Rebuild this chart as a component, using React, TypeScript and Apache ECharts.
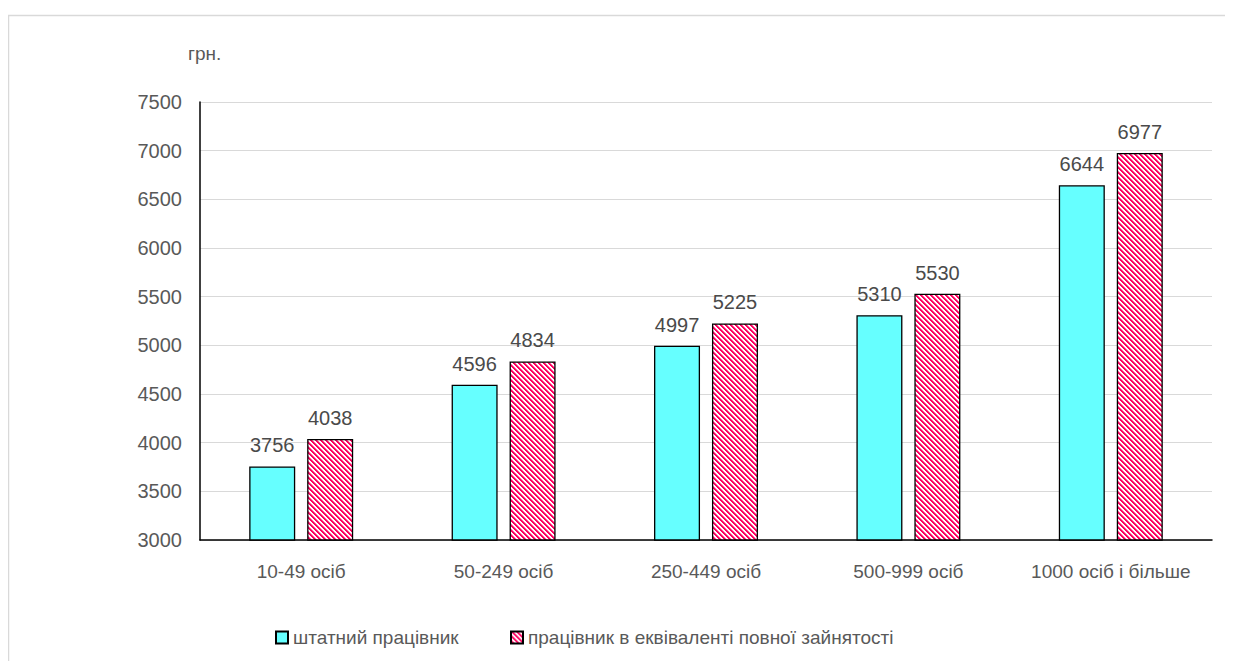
import React, { useEffect, useRef } from "react";
import * as echarts from "echarts";

const categories = ["10-49 осіб", "50-249 осіб", "250-449 осіб", "500-999 осіб", "1000 осіб і більше"];
const staffValues = [3756, 4596, 4997, 5310, 6644];
const fteValues = [4038, 4834, 5225, 5530, 6977];
const seriesNames = ["штатний працівник", "працівник в еквіваленті повної зайнятості"];
const yMin = 3000;
const yMax = 7500;
const yInterval = 500;
const unitLabel = "грн.";

function makeStripes(): HTMLCanvasElement {
  const n = 5;
  const c = document.createElement("canvas");
  c.width = n;
  c.height = n;
  const ctx = c.getContext("2d")!;
  const pink = [255, 0, 96];
  const white = [255, 255, 255];
  const img = ctx.createImageData(n, n);
  for (let y = 0; y < n; y++) {
    for (let x = 0; x < n; x++) {
      const d = (((x - y) % n) + n) % n;
      let t = 0;
      if (d === 0 || d === 1) t = 1;
      else if (d === 2) t = 0.6;
      else t = 0;
      const i = (y * n + x) * 4;
      for (let k = 0; k < 3; k++) img.data[i + k] = Math.round(pink[k] * t + white[k] * (1 - t));
      img.data[i + 3] = 255;
    }
  }
  ctx.putImageData(img, 0, 0);
  return c;
}

export default function App() {
  const ref = useRef<HTMLDivElement>(null);
  useEffect(() => {
    if (!ref.current) return;
    const chart = echarts.init(ref.current, null, { renderer: "svg" });
    const font = "'Liberation Sans', Arial, sans-serif";
    const stripes = makeStripes();
    const labelCommon = {
      show: true,
      position: "top" as const,
      distance: 11,
      color: "#4a4a4a",
      fontSize: 20,
      fontFamily: font,
    };
    const legendText = { fontSize: 19, color: "#595959", fontFamily: font };
    chart.setOption({
      animation: false,
      textStyle: { fontFamily: font },
      graphic: [
        {
          type: "rect",
          shape: { x: 0.5, y: 7.5, width: 1300, height: 700 },
          style: { fill: "none", stroke: "#d9d9d9", lineWidth: 1.5 },
          silent: true,
        },
        {
          type: "text",
          x: 180,
          y: 36,
          style: { text: unitLabel, fontSize: 19, fill: "#595959", fontFamily: font },
        },
      ],
      legend: [
        {
          data: [seriesNames[0]],
          left: 262,
          top: 615,
          itemWidth: 12,
          itemHeight: 12,
          itemGap: 6,
          icon: "rect",
          textStyle: legendText,
        },
        {
          data: [seriesNames[1]],
          left: 497,
          top: 615,
          itemWidth: 12,
          itemHeight: 12,
          icon: "rect",
          textStyle: legendText,
        },
      ],
      grid: { left: 192, right: 21, top: 94, bottom: 121, containLabel: false },
      xAxis: {
        type: "category",
        data: categories,
        axisLine: { lineStyle: { color: "#000", width: 1.5 } },
        axisTick: { show: false },
        axisLabel: { color: "#595959", fontSize: 19, margin: 22, fontFamily: font, interval: 0 },
      },
      yAxis: {
        type: "value",
        min: yMin,
        max: yMax,
        interval: yInterval,
        axisLine: { show: true, lineStyle: { color: "#000", width: 1.5 } },
        axisTick: { show: false },
        axisLabel: {
          color: "#595959",
          fontSize: 20,
          margin: 18,
          fontFamily: font,
          formatter: (v: number) => String(v),
        },
        splitLine: { lineStyle: { color: "#d9d9d9", width: 1 } },
      },
      series: [
        {
          name: seriesNames[0],
          type: "bar",
          data: staffValues,
          barWidth: 46,
          barGap: "26%",
          itemStyle: { color: "#66ffff", borderColor: "#000", borderWidth: 1.3 },
          label: labelCommon,
        },
        {
          name: seriesNames[1],
          type: "bar",
          data: fteValues,
          barWidth: 46,
          itemStyle: {
            color: { image: stripes, repeat: "repeat" },
            borderColor: "#000",
            borderWidth: 1.3,
          },
          label: labelCommon,
        },
      ],
    });
    return () => chart.dispose();
  }, []);
  return <div ref={ref} style={{ width: 1225, height: 653 }} />;
}
